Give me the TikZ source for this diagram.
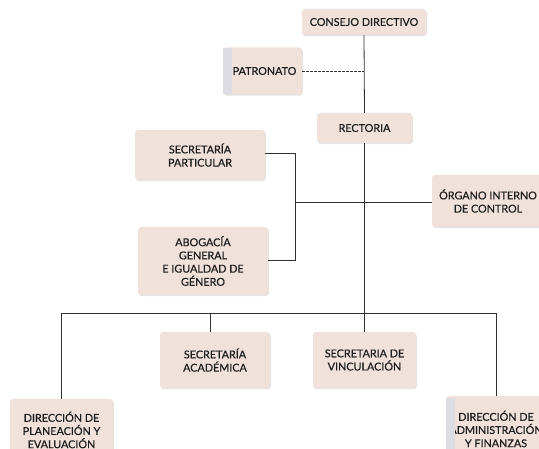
\documentclass[tikz,border=0pt]{standalone}
\usepackage{fontspec}
\setmainfont{Lato}[FakeBold=0.6,BoldFont=Lato,BoldFeatures={FakeBold=0.6}]
\usetikzlibrary{shadows}
\definecolor{boxfill}{HTML}{F0E2DB}
\definecolor{linec}{HTML}{303030}
\definecolor{stripc}{HTML}{DCDCE2}
\definecolor{txt}{HTML}{1E1E1E}
\begin{document}
\begin{tikzpicture}[x=1pt,y=-1pt,
  box/.style={draw=none, fill=boxfill, rounded corners=3pt, align=center,
    font=\fontsize{10.8}{13.2}\selectfont\bfseries, text=txt, inner sep=2pt,
    drop shadow={shadow xshift=0.8pt, shadow yshift=-1.2pt, opacity=0.18, fill=black!60}},
  conn/.style={draw=linec, line width=0.8pt},
  dconn/.style={conn, dash pattern=on 2.5pt off 1.5pt}]
\useasboundingbox (0,0) rectangle (539,449);
\clip (0,0) rectangle (539,449);
\fill[white] (0,0) rectangle (539,449);
% boxes
\node[box, minimum width=124pt, minimum height=26pt] (consejo) at (364,22) {CONSEJO DIRECTIVO};
\node[box, minimum width=79pt, minimum height=47pt] (patronato) at (262.5,71) {\hspace*{4pt}PATRONATO};
\fill[stripc] (223,48) rectangle (232,94);
\node[box, minimum width=95pt, minimum height=30pt] (rectoria) at (364.5,128) {RECTORIA};
\node[box, minimum width=130pt, minimum height=50pt] (secpart) at (200,155) {SECRETARÍA\\PARTICULAR};
\node[box, minimum width=130pt, minimum height=68pt] (abog) at (203,261) {ABOGACÍA\\GENERAL\\E IGUALDAD DE\\GÉNERO};
\node[box, minimum width=112pt, minimum height=52pt] (organo) at (488,201) {ÓRGANO INTERNO\\DE CONTROL};
\node[box, minimum width=110pt, minimum height=56pt] (secacad) at (215,360) {SECRETARÍA\\ACADÉMICA};
\node[box, minimum width=103pt, minimum height=56pt] (secvinc) at (364.5,360) {SECRETARIA DE\\VINCULACIÓN};
\node[box, minimum width=103pt, minimum height=62pt] (dirplan) at (61.5,430) {DIRECCIÓN DE\\PLANEACIÓN Y\\EVALUACIÓN};
\node[box, minimum width=100pt, minimum height=66pt] (diradm) at (496,429) {DIRECCIÓN DE\\ADMINISTRACIÓN\\Y FINANZAS};
\fill[stripc] (446,398) rectangle (455,449);
% connector points
\coordinate (pj) at (364,71);
\coordinate (sj1) at (295,153);
\coordinate (sj2) at (295,260);
\coordinate (oj) at (295,202);
\coordinate (busL) at (61.5,313);
\coordinate (busR) at (496,313);
\coordinate (busA) at (210,313);
% connectors
\draw[conn] (consejo.south) -- (rectoria.north);
\draw[dconn] (patronato.east) -- (pj);
\draw[conn] (secpart.east |- sj1) -- (sj1) -- (sj2) -- (abog.east |- sj2);
\draw[conn] (oj) -- (organo.west |- oj);
\draw[conn] (rectoria.south) -- (secvinc.north);
\draw[conn] (busL) -- (busR);
\draw[conn] (busL) -- (dirplan.north);
\draw[conn] (busR) -- (diradm.north);
\draw[conn] (busA) -- (busA |- secacad.north);
\end{tikzpicture}
\end{document}
